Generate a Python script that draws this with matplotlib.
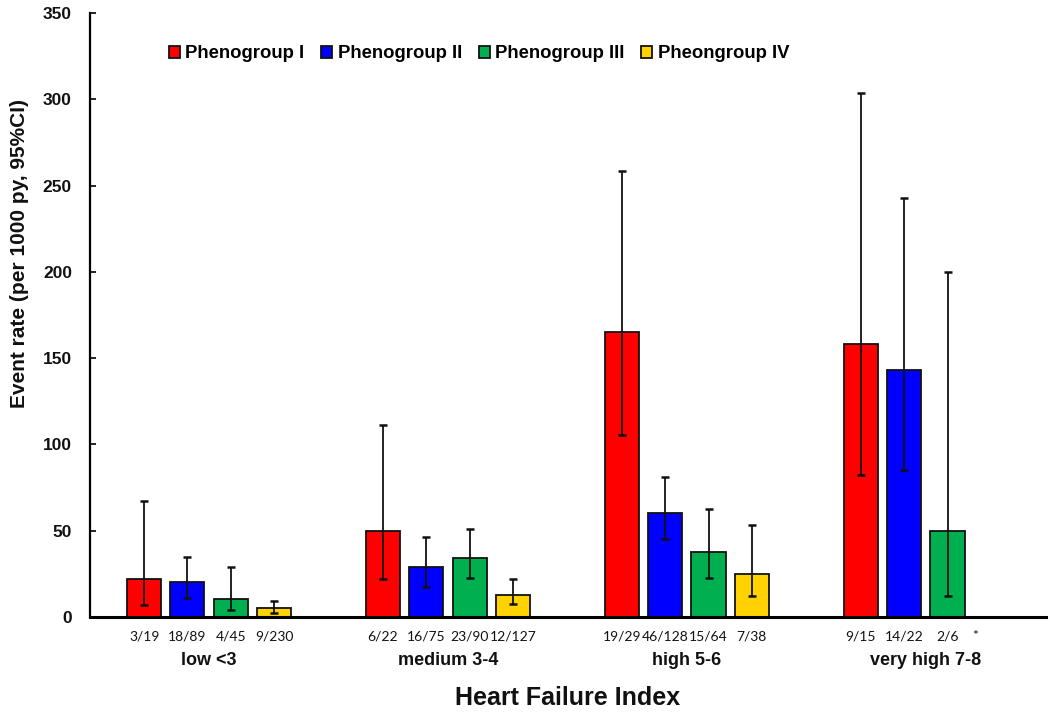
import matplotlib
matplotlib.use("Agg")
import matplotlib.pyplot as plt
import numpy as np

plt.rcParams['font.family'] = ['Liberation Sans', 'DejaVu Sans']

groups = ["low <3", "medium 3-4", "high 5-6", "very high 7-8"]
series = ["Phenogroup I", "Phenogroup II", "Phenogroup III", "Pheongroup IV"]
colors = ["#FF0000", "#0000FF", "#00B050", "#FFD200"]

# event rate per 1000 py, with 95% CI (nan = no bar)
rate_1 = [22, 50, 165, 158]
rate_2 = [20, 29, 60, 143]
rate_3 = [10.5, 34, 37.5, 50]
rate_4 = [5, 13, 25, np.nan]

low_1 = [7, 22, 105.5, 82]
low_2 = [11, 17.5, 45, 85]
low_3 = [4.3, 22.8, 22.4, 12]
low_4 = [2.5, 7.5, 12, np.nan]

high_1 = [67, 111, 258.5, 303.5]
high_2 = [34.5, 46.5, 81, 242.5]
high_3 = [28.8, 50.8, 62.4, 200]
high_4 = [9.1, 22.2, 53.5, np.nan]

counts_1 = ["3/19", "6/22", "19/29", "9/15"]
counts_2 = ["18/89", "16/75", "46/128", "14/22"]
counts_3 = ["4/45", "23/90", "15/64", "2/6"]
counts_4 = ["9/230", "12/127", "7/38", "*"]

rates = [rate_1, rate_2, rate_3, rate_4]
lows = [low_1, low_2, low_3, low_4]
highs = [high_1, high_2, high_3, high_4]
counts = [counts_1, counts_2, counts_3, counts_4]

fig = plt.figure(figsize=(10.5, 7.17), dpi=100)
ax = fig.add_axes([0.0857, 0.1395, 0.9103, 0.8424])

gstep = 5.52
width = 0.79
gx = np.arange(len(groups)) * gstep

for i in range(len(series)):
    x = gx + i
    r = np.array(rates[i], dtype=float)
    lo = np.array(lows[i], dtype=float)
    hi = np.array(highs[i], dtype=float)
    ax.bar(x, np.nan_to_num(r), width=width, color=colors[i], edgecolor="#111111",
           linewidth=1.3, label=series[i], zorder=2)
    ok = ~np.isnan(r)
    ax.errorbar(x[ok], r[ok], yerr=[r[ok] - lo[ok], hi[ok] - r[ok]], fmt="none",
                ecolor="#111111", elinewidth=1.3, capsize=3, capthick=1.8, zorder=3)
    for xi, c in zip(x, counts[i]):
        dx = -11 if c == "*" else 0
        ax.annotate(c, xy=(xi, 0), xycoords=("data", "axes fraction"),
                    xytext=(dx, -14), textcoords="offset points",
                    ha="center", va="center", fontsize=10, family="Lato",
                    color="#111111")

for g, name in zip(gx, groups):
    ax.annotate(name, xy=(g + 1.5, 0), xycoords=("data", "axes fraction"),
                xytext=(0, -31), textcoords="offset points",
                ha="center", va="center", fontsize=13, fontweight="bold", color="#111111")

ax.annotate("Heart Failure Index", xy=(0.5, 0), xycoords="axes fraction",
            xytext=(0, -58), textcoords="offset points",
            ha="center", va="center", fontsize=18, fontweight="bold", color="#111111")

fig.text(20 / 1050, 1 - 253 / 717, "Event rate (per 1000 py, 95%CI)", rotation=90,
         ha="center", va="center", fontsize=15, fontweight="bold", color="#111111")

ax.set_xlim(-1.25, 20.83)
ax.set_ylim(0, 350)
ax.set_yticks(np.arange(0, 351, 50))
ax.set_xticks([])
for lab in ax.get_yticklabels():
    lab.set_fontweight("bold")
ax.tick_params(axis="y", direction="in", length=4, width=1.2, pad=13,
               labelsize=12.5, labelcolor="#111111")

ax.spines["top"].set_visible(False)
ax.spines["right"].set_visible(False)
ax.spines["left"].set_linewidth(1.6)
ax.spines["bottom"].set_linewidth(2.2)

fig.legend(loc="center", bbox_to_anchor=(479 / 1050, 1 - 54 / 717), ncol=4,
           frameon=False, prop={"weight": "bold", "size": 13.3},
           handlelength=0.6, handleheight=0.6, handletextpad=0.3, columnspacing=0.9)

fig.savefig("out.png", dpi=100)
